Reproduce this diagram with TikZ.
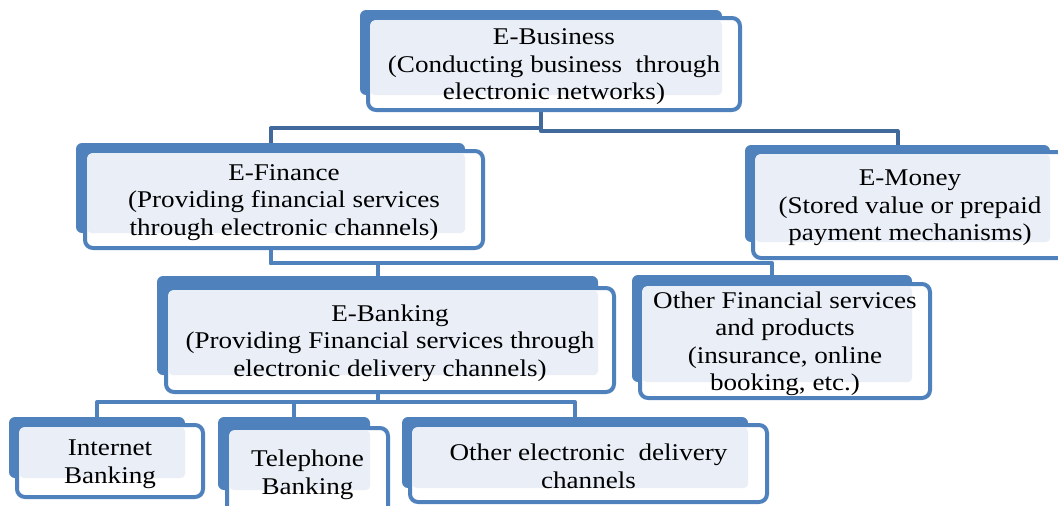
\documentclass[tikz,border=0pt]{standalone}
\usepackage{fontspec}
\setmainfont{Liberation Serif}
\newfontfamily\labelface[FakeStretch=1.13]{Liberation Serif}
\usetikzlibrary{calc,fit}

\definecolor{accent}{HTML}{4F81BD}
\definecolor{paneltint}{HTML}{E9EEF7}
\definecolor{linkdark}{HTML}{41699C}

\tikzset{
  backbox/.style={fill=accent, draw=none, rounded corners=6pt},
  framebox/.style={draw=accent, line width=4pt, fill=white, rounded corners=8pt},
  tintbox/.style={fill=paneltint, rounded corners=4pt},
  boxlabel/.style={align=center, inner sep=0pt,
    font=\labelface\fontsize{24}{27.5}\selectfont},
  link/.style={draw=accent, line width=4pt, line join=round},
}

% #1 name, #2 back NW corner, #3 back SE corner,
% #4 frame NW corner, #5 frame SE corner, #6 label text
\newcommand\orgunit[6]{%
  \path[backbox] (#2) rectangle (#3);
  \node[fit={(#2)(#3)}, inner sep=0pt] (#1) {};
  \path[framebox] (#4) rectangle (#5);
  \path[tintbox] ($(#4)+(2.5,2.5)$) rectangle (#3);
  \node[boxlabel] (#1-text) at ($(#4)!0.5!(#5)+(0,3)$) {#6};
}

\begin{document}
\begin{tikzpicture}[x=1pt,y=-1pt]
\useasboundingbox (0,0) rectangle (1058,506);

% anchor nodes for the connectors (drawn first, boxes go on top)
\node[fit={(360,10)(722,95)}, inner sep=0pt] (ebus) {};
\node[fit={(76,143)(465,233)}, inner sep=0pt] (efin) {};
\node[fit={(745,145)(1050,242)}, inner sep=0pt] (emon) {};
\node[fit={(157,276)(598,375)}, inner sep=0pt] (ebank) {};
\node[fit={(632,275)(912,382)}, inner sep=0pt] (ofs) {};
\node[fit={(9,417)(185,478)}, inner sep=0pt] (inet) {};
\node[fit={(218,417)(370,490)}, inner sep=0pt] (tel) {};
\node[fit={(402,417)(748,488)}, inner sep=0pt] (oedc) {};

% connectors
\draw[link, draw=linkdark] (ebus.south) -- ++(0,33) -| (efin.north);
\draw[link, draw=linkdark] (ebus.south) -- ++(0,36) -| (emon.north);
\draw[link] (efin.south) -- ++(0,30) -| (ebank.north);
\draw[link] (efin.south) -- ++(0,30) -| (ofs.north);
\draw[link] (ebank.south) -- ++(0,27) -| (inet.north);
\draw[link] (ebank.south) -- ++(0,27) -| (tel.north);
\draw[link] (ebank.south) -- ++(0,27) -| (oedc.north);

% boxes
\orgunit{ebusB}{360,10}{722,95}{368,18}{740,110}
  {E-Business\\(Conducting business\ \ through\\electronic networks)}
\orgunit{efinB}{76,143}{465,233}{85,151}{483,248}
  {E-Finance\\(Providing financial services\\through electronic channels)}
\orgunit{emonB}{745,145}{1050,242}{753,152}{1067,258}
  {E-Money\\(Stored value or prepaid\\payment mechanisms)}
\orgunit{ebankB}{157,276}{598,375}{166,288}{614,392}
  {E-Banking\\(Providing Financial services through\\electronic delivery channels)}
\orgunit{ofsB}{632,275}{912,382}{640,284}{930,398}
  {Other Financial services\\and products\\(insurance, online\\booking, etc.)}
\orgunit{inetB}{9,417}{185,478}{17,425}{203,497}
  {Internet\\Banking}
\orgunit{telB}{218,417}{370,490}{227,428}{388,516}
  {Telephone\\Banking}
\orgunit{oedcB}{402,417}{748,488}{410,425}{767,502}
  {Other electronic\ \ delivery\\channels}
\end{tikzpicture}
\end{document}
